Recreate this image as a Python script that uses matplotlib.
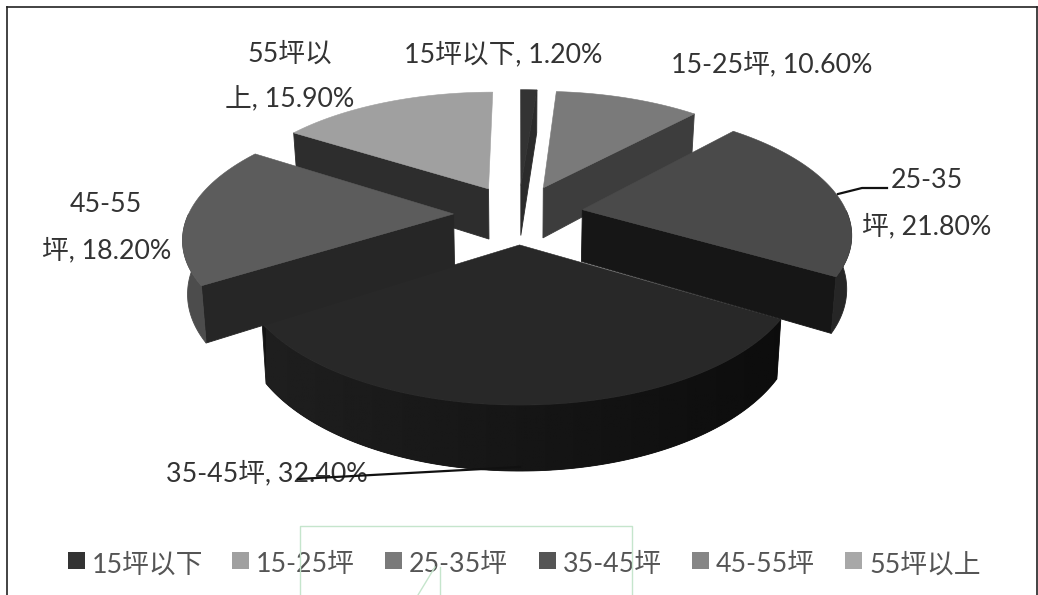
import matplotlib
matplotlib.use('Agg')
import matplotlib.pyplot as plt
import numpy as np
from matplotlib.patches import Polygon, Rectangle

plt.rcParams['font.family'] = ['Lato', 'Noto Sans CJK SC', 'DejaVu Sans']

# data
categories = ['15坪以下', '15-25坪', '25-35坪', '35-45坪', '45-55坪', '55坪以上']
percents = [1.2, 10.6, 21.8, 32.4, 18.2, 15.9]

# colours per slice
top_colors = ['#333333', '#7a7a7a', '#4a4a4a', '#282828', '#5c5c5c', '#a0a0a0']
wall_colors = ['#2b2b2b', '#3d3d3d', '#161616', '#1c1c1c', '#262626', '#2d2d2d']
rim_colors = ['#2b2b2b', '#3d3d3d', '#262626', '#141414', '#4c4c4c', '#2d2d2d']
legend_colors = ['#333333', '#a0a0a0', '#7a7a7a', '#555555', '#868686', '#a8a8a8']
draw_order = [5, 0, 1, 3, 4, 2]

# projection of the tilted pie, in pixels
cx, cy = 518.5, 214
rx, ry = 265, 121
persp = 0.17
explode = 0.245
depth = 52
shrink = 0.985


def project(X, Y, lower=False):
    p = 1 / (1 - persp * Y)
    x = rx * X * p
    y = cy + ry * Y * p
    if lower:
        return cx + x * shrink, y + depth * p
    return cx + x, y


def quad(x1, y1, x2, y2, color, z=1):
    xs = np.concatenate([x1, x2[::-1]])
    ys = np.concatenate([y1, y2[::-1]])
    ax.fill(xs, ys, color=color, lw=0.6, zorder=z)


fig = plt.figure(figsize=(10.38, 5.95), dpi=100)
ax = fig.add_axes([0, 0, 1, 1])
ax.axis('off')

edges = np.concatenate([[0], np.cumsum(percents)]) / sum(percents) * 2 * np.pi

for i in draw_order:
    t0, t1 = edges[i], edges[i + 1]
    mid = (t0 + t1) / 2
    ox, oy = explode * np.sin(mid), -explode * np.cos(mid)
    th = np.linspace(t0, t1, 120)
    X = ox + np.sin(th)
    Y = oy - np.cos(th)

    # straight cut faces turned to the viewer
    for t, visible in ((t0, np.sin(t0) < -1e-6), (t1, np.sin(t1) > 1e-6)):
        if visible:
            ex = np.array([ox, ox + np.sin(t)])
            ey = np.array([oy, oy - np.cos(t)])
            quad(*project(ex, ey), *project(ex, ey, True), wall_colors[i])

    # outer wall, only the front half of the circle shows
    front = (th > np.pi / 2) & (th < 3 * np.pi / 2)
    if front.any():
        xf, yf = X[front], Y[front]
        quad(*project(xf, yf), *project(xf, yf, True), rim_colors[i])
        if i == 3:
            # big slice gets darker from left to right
            ux, uy = project(xf, yf)
            lx, ly = project(xf, yf, True)
            clip = Polygon(np.c_[np.r_[ux, lx[::-1]], np.r_[uy, ly[::-1]]],
                           transform=ax.transData, fc='none', ec='none')
            ax.add_patch(clip)
            ramp = np.linspace(0.12, 0.05, 256).reshape(1, -1)
            im = ax.imshow(ramp, cmap='gray', vmin=0, vmax=1, aspect='auto', zorder=1,
                           extent=[lx.min(), ux.max(), ly.max(), uy.min()])
            im.set_clip_path(clip)

    # top face
    px, py = project(np.r_[ox, X], np.r_[oy, Y])
    ax.fill(px, py, color=top_colors[i], lw=0.4, zorder=1)

# labels
text_color = '#333333'
fs = 19.3
ax.text(290, 54, '55坪以', ha='center', va='center', fontsize=fs, color=text_color)
ax.text(290, 99, '上, 15.90%', ha='center', va='center', fontsize=fs, color=text_color)
ax.text(503, 54, '15坪以下, 1.20%', ha='center', va='center', fontsize=fs, color=text_color)
ax.text(772, 64, '15-25坪, 10.60%', ha='center', va='center', fontsize=fs, color=text_color)
ax.text(927, 181, '25-35', ha='center', va='center', fontsize=fs, color=text_color)
ax.text(927, 226, '坪, 21.80%', ha='center', va='center', fontsize=fs, color=text_color)
ax.text(106, 205, '45-55', ha='center', va='center', fontsize=fs, color=text_color)
ax.text(107, 250, '坪, 18.20%', ha='center', va='center', fontsize=fs, color=text_color)
ax.text(267, 473, '35-45坪, 32.40%', ha='center', va='center', fontsize=fs, color=text_color, zorder=2)

# leader lines
ax.plot([838, 862, 887], [194, 188, 188], color='#111111', lw=1.6, zorder=3)
ax.plot([298, 520], [479, 467], color='#111111', lw=1.6, zorder=3)

# legend
legend_x = [68, 232, 385, 539, 692, 845]
for name, lx, c in zip(categories, legend_x, legend_colors):
    ax.add_patch(Rectangle((lx, 552), 17, 17, color=c, lw=0, zorder=2))
    ax.text(lx + 24, 565, name, ha='left', va='center', fontsize=fs, color='#555555', zorder=2)

# picture frame
ax.plot([7, 7], [595, 6.5], color='#222222', lw=1.2, zorder=4)
ax.plot([7, 1037], [6.5, 6.5], color='#222222', lw=1.2, zorder=4)
ax.plot([1037, 1037], [6.5, 595], color='#222222', lw=1.2, zorder=4)

# stray green box over the legend
green = '#c5e5cc'
ax.plot([300, 300, 632, 632], [595, 526, 526, 595], color=green, lw=1, zorder=5)
ax.plot([440, 440], [567, 595], color=green, lw=1, zorder=5)
ax.plot([435, 418], [567, 595], color=green, lw=1, zorder=5)

# imshow changes the limits, so set them last
ax.set_xlim(0, 1038)
ax.set_ylim(595, 0)

fig.savefig('out.png', dpi=100)
